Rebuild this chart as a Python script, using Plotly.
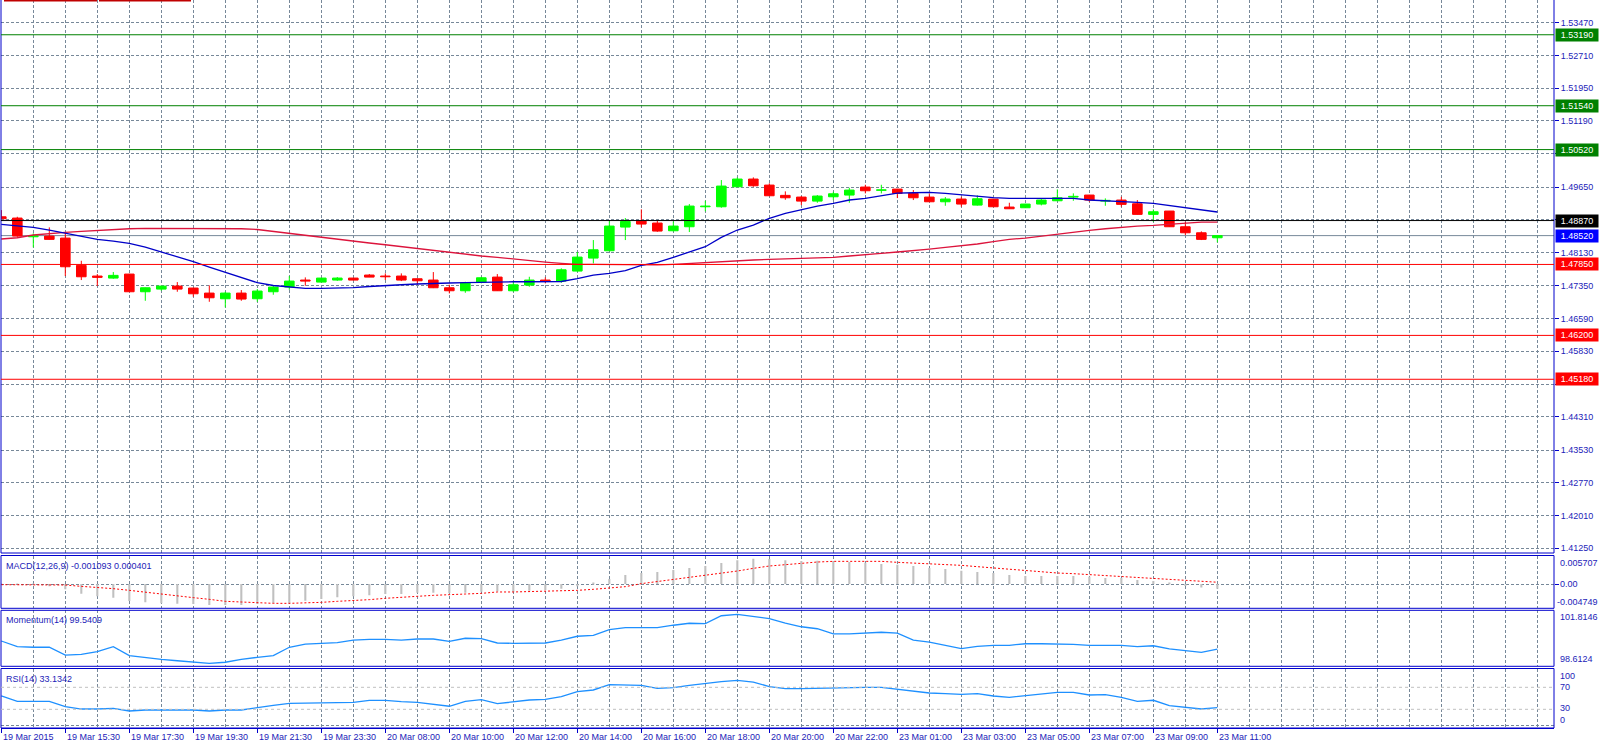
import plotly.graph_objects as go

# ---------------- data ----------------
idx = list(range(77))

open_ = [1.48958, 1.48928, 1.48493, 1.48510, 1.48463, 1.47828, 1.47580, 1.47533, 1.47626, 1.47215,
         1.47277, 1.47347, 1.47301, 1.47184, 1.47052, 1.47184, 1.47052, 1.47215, 1.47324, 1.47487,
         1.47440, 1.47487, 1.47533, 1.47603, 1.47580, 1.47580, 1.47517, 1.47487, 1.47308, 1.47238,
         1.47433, 1.47556, 1.47238, 1.47370, 1.47487, 1.47463, 1.47696, 1.47998, 1.48168, 1.48719,
         1.48858, 1.48812, 1.48633, 1.48726, 1.49191, 1.49191, 1.49656, 1.49835, 1.49695, 1.49456,
         1.49416, 1.49323, 1.49423, 1.49463, 1.49649, 1.49572, 1.49602, 1.49502, 1.49416, 1.49307,
         1.49370, 1.49230, 1.49370, 1.49184, 1.49168, 1.49254, 1.49330, 1.49416, 1.49463, 1.49323,
         1.49347, 1.49261, 1.49014, 1.49091, 1.48726, 1.48586, 1.48470]
high = [1.49114, 1.48958, 1.48572, 1.48712, 1.48579, 1.47935, 1.47626, 1.47673, 1.47630, 1.47310,
        1.47350, 1.47440, 1.47305, 1.47363, 1.47215, 1.47254, 1.47277, 1.47347, 1.47580, 1.47549,
        1.47535, 1.47556, 1.47535, 1.47626, 1.47642, 1.47642, 1.47520, 1.47673, 1.47377, 1.47447,
        1.47563, 1.47626, 1.47447, 1.47563, 1.47549, 1.47759, 1.48138, 1.48417, 1.48882, 1.48928,
        1.49130, 1.48865, 1.48851, 1.49254, 1.49330, 1.49812, 1.49874, 1.49874, 1.49735, 1.49549,
        1.49440, 1.49463, 1.49540, 1.49633, 1.49702, 1.49702, 1.49605, 1.49579, 1.49502, 1.49416,
        1.49423, 1.49456, 1.49372, 1.49284, 1.49256, 1.49386, 1.49595, 1.49502, 1.49465, 1.49386,
        1.49423, 1.49347, 1.49130, 1.49093, 1.48842, 1.48619, 1.48526]
low = [1.48912, 1.48493, 1.48247, 1.48430, 1.47580, 1.47487, 1.47347, 1.47517, 1.47210, 1.47005,
       1.47240, 1.47215, 1.47098, 1.46982, 1.46852, 1.47005, 1.46982, 1.47145, 1.47261, 1.47354,
       1.47438, 1.47470, 1.47485, 1.47556, 1.47487, 1.47463, 1.47377, 1.47300, 1.47177, 1.47191,
       1.47410, 1.47235, 1.47215, 1.47331, 1.47410, 1.47424, 1.47685, 1.47875, 1.48160, 1.48417,
       1.48712, 1.48610, 1.48619, 1.48603, 1.49084, 1.49168, 1.49650, 1.49656, 1.49445, 1.49354,
       1.49230, 1.49284, 1.49347, 1.49284, 1.49502, 1.49502, 1.49393, 1.49347, 1.49305, 1.49214,
       1.49191, 1.49220, 1.49189, 1.49142, 1.49166, 1.49223, 1.49326, 1.49330, 1.49307, 1.49214,
       1.49191, 1.49012, 1.48842, 1.48724, 1.48533, 1.48417, 1.48363]
close = [1.48912, 1.48510, 1.48517, 1.48433, 1.47796, 1.47563, 1.47549, 1.47596, 1.47215, 1.47308,
         1.47347, 1.47277, 1.47168, 1.47075, 1.47184, 1.47045, 1.47231, 1.47324, 1.47463, 1.47463,
         1.47533, 1.47533, 1.47487, 1.47556, 1.47563, 1.47487, 1.47470, 1.47308, 1.47238, 1.47424,
         1.47540, 1.47238, 1.47377, 1.47487, 1.47456, 1.47726, 1.48021, 1.48191, 1.48742, 1.48851,
         1.48789, 1.48626, 1.48742, 1.49207, 1.49207, 1.49672, 1.49835, 1.49679, 1.49447, 1.49400,
         1.49323, 1.49440, 1.49493, 1.49579, 1.49563, 1.49586, 1.49502, 1.49400, 1.49307, 1.49370,
         1.49254, 1.49377, 1.49191, 1.49144, 1.49254, 1.49347, 1.49400, 1.49433, 1.49347, 1.49340,
         1.49247, 1.49014, 1.49075, 1.48726, 1.48586, 1.48433, 1.48520]

fast_ma = [1.48783, 1.48755, 1.48713, 1.48650, 1.48573, 1.48499, 1.48434, 1.48394, 1.48341, 1.48255,
           1.48146, 1.48034, 1.47913, 1.47790, 1.47667, 1.47546, 1.47425, 1.47360, 1.47325, 1.47295,
           1.47295, 1.47295, 1.47309, 1.47337, 1.47364, 1.47378, 1.47395, 1.47411, 1.47418, 1.47425,
           1.47434, 1.47448, 1.47448, 1.47448, 1.47448, 1.47453, 1.47518, 1.47604, 1.47643, 1.47704,
           1.47829, 1.47899, 1.48015, 1.48139, 1.48262, 1.48480, 1.48650, 1.48766, 1.48922, 1.49038,
           1.49131, 1.49208, 1.49271, 1.49348, 1.49387, 1.49448, 1.49510, 1.49517, 1.49527, 1.49503,
           1.49464, 1.49424, 1.49401, 1.49387, 1.49387, 1.49387, 1.49387, 1.49387, 1.49348, 1.49331,
           1.49324, 1.49294, 1.49271, 1.49224, 1.49178, 1.49115, 1.49069]
slow_ma = [1.48441, 1.48471, 1.48534, 1.48573, 1.48597, 1.48620, 1.48643, 1.48650, 1.48680, 1.48690,
           1.48690, 1.48690, 1.48690, 1.48688, 1.48685, 1.48680, 1.48662, 1.48615, 1.48569, 1.48534,
           1.48487, 1.48429, 1.48387, 1.48348, 1.48308, 1.48264, 1.48225, 1.48185, 1.48127, 1.48092,
           1.48046, 1.48015, 1.47976, 1.47929, 1.47906, 1.47876, 1.47853, 1.47853, 1.47848, 1.47848,
           1.47836, 1.47841, 1.47853, 1.47876, 1.47894, 1.47906, 1.47929, 1.47953, 1.47969, 1.47980,
           1.47985, 1.47992, 1.48015, 1.48046, 1.48069, 1.48108, 1.48139, 1.48169, 1.48208, 1.48248,
           1.48285, 1.48325, 1.48378, 1.48434, 1.48464, 1.48511, 1.48557, 1.48604, 1.48643, 1.48680,
           1.48713, 1.48743, 1.48759, 1.48790, 1.48820, 1.48836, 1.48836]

macd_main = [0.00008, 0.00003, -0.00006, -0.00053, -0.00120, -0.00218, -0.00278, -0.00308, -0.00384, -0.00414,
             -0.00436, -0.00444, -0.00451, -0.004749, -0.00474, -0.00472, -0.00451, -0.00429, -0.00429, -0.00376,
             -0.00338, -0.00301, -0.00278, -0.00256, -0.00226, -0.00226, -0.00196, -0.00196, -0.00211, -0.00196,
             -0.00173, -0.00165, -0.00173, -0.00150, -0.00135, -0.00105, -0.00053, 0.00030, 0.00113, 0.00203,
             0.00248, 0.00271, 0.00316, 0.00361, 0.00406, 0.00474, 0.00534, 0.005707, 0.00566, 0.00534,
             0.00519, 0.00526, 0.00511, 0.00496, 0.00481, 0.00451, 0.00436, 0.00406, 0.00361, 0.00338,
             0.00301, 0.00271, 0.00248, 0.00203, 0.00180, 0.00180, 0.00180, 0.00180, 0.00165, 0.00135,
             0.00135, 0.00090, 0.00068, 0.00023, -0.00045, -0.00080, -0.001093]
macd_signal = [-0.00015, -0.00015, -0.00015, -0.00015, -0.00023, -0.00053, -0.00075, -0.00105, -0.00143, -0.00180,
               -0.00218, -0.00263, -0.00308, -0.00346, -0.00391, -0.00406, -0.00429, -0.00436, -0.00436, -0.00429,
               -0.00414, -0.00391, -0.00376, -0.00353, -0.00323, -0.00293, -0.00278, -0.00256, -0.00233, -0.00226,
               -0.00211, -0.00180, -0.00180, -0.00173, -0.00158, -0.00150, -0.00143, -0.00120, -0.00090, -0.00060,
               0.00008, 0.00053, 0.00105, 0.00158, 0.00188, 0.00241, 0.00293, 0.00353, 0.00406, 0.00436,
               0.00474, 0.00496, 0.00511, 0.00511, 0.00511, 0.00511, 0.00489, 0.00474, 0.00466, 0.00444,
               0.00421, 0.00391, 0.00361, 0.00338, 0.00308, 0.00278, 0.00248, 0.00233, 0.00211, 0.00196,
               0.00173, 0.00150, 0.00128, 0.00113, 0.00083, 0.00060, 0.000401]
momentum = [100.07, 99.70, 99.66, 99.66, 99.15, 99.20, 99.37, 99.70, 99.11, 98.98,
            98.87, 98.78, 98.70, 98.6124, 98.68, 98.87, 99.00, 99.11, 99.66, 99.87,
            99.92, 99.96, 100.13, 100.18, 100.18, 100.13, 100.20, 100.20, 100.05, 100.25,
            100.22, 99.94, 99.92, 99.92, 99.94, 100.13, 100.38, 100.44, 100.81, 100.94,
            100.94, 100.94, 101.10, 101.23, 101.20, 101.72, 101.8146, 101.66, 101.53, 101.23,
            101.00, 100.87, 100.53, 100.53, 100.59, 100.64, 100.59, 100.13, 100.00, 99.81,
            99.57, 99.72, 99.79, 99.79, 99.89, 99.89, 99.89, 99.85, 99.79, 99.79,
            99.79, 99.70, 99.76, 99.55, 99.44, 99.33, 99.5409]
rsi = [54.2, 44.5, 44.5, 44.5, 34.7, 30.5, 30.5, 31.8, 26.9, 28.7,
       28.7, 28.7, 28.7, 26.9, 28.7, 28.7, 33.6, 37.3, 40.9, 40.9,
       42.0, 42.0, 42.7, 46.4, 46.4, 43.8, 42.7, 39.6, 35.5, 44.5,
       47.5, 40.2, 43.3, 46.9, 48.2, 52.9, 62.0, 65.1, 74.7, 74.7,
       73.6, 68.2, 69.3, 73.6, 77.3, 80.2, 82.7, 79.6, 71.1, 67.5,
       67.5, 68.2, 68.2, 70.0, 70.0, 70.0, 66.4, 62.7, 59.6, 58.4,
       57.3, 58.4, 54.2, 51.8, 54.7, 57.8, 60.9, 60.9, 56.0, 56.5,
       51.8, 44.5, 46.4, 36.5, 32.9, 30.5, 33.1342]

time_labels = ["19 Mar 2015", "19 Mar 15:30", "19 Mar 17:30", "19 Mar 19:30", "19 Mar 21:30",
               "19 Mar 23:30", "20 Mar 08:00", "20 Mar 10:00", "20 Mar 12:00", "20 Mar 14:00",
               "20 Mar 16:00", "20 Mar 18:00", "20 Mar 20:00", "20 Mar 22:00", "23 Mar 01:00",
               "23 Mar 03:00", "23 Mar 05:00", "23 Mar 07:00", "23 Mar 09:00", "23 Mar 11:00"]
label_pos = list(range(0, 77, 4))

price_ticks = [1.53470, 1.52710, 1.51950, 1.51190, 1.50430, 1.49650, 1.48890, 1.48130, 1.47350,
               1.46590, 1.45830, 1.45070, 1.44310, 1.43530, 1.42770, 1.42010, 1.41250]
resistance_levels = [1.53190, 1.51540, 1.50520]
support_levels = [1.47850, 1.46200, 1.45180]
pivot_level = 1.48870
bid_price = 1.48520

macd_label = "MACD(12,26,9) -0.001093 0.000401"
mom_label = "Momentum(14) 99.5409"
rsi_label = "RSI(14) 33.1342"

# ---------------- styles ----------------
FONT = "Liberation Sans"
NAVY = "#1c1cb8"
BLUE = "#0000cc"
GRID = "#778899"
BULL = "#00ff00"
BEAR = "#ff0000"

fig = go.Figure()

bull = [i for i in idx if close[i] >= open_[i]]
bear = [i for i in idx if close[i] < open_[i]]

for group, col in ((bull, BULL), (bear, BEAR)):
    wx, wy = [], []
    for i in group:
        wx += [i, i, None]
        wy += [low[i], high[i], None]
    fig.add_trace(go.Scatter(x=wx, y=wy, mode="lines", line=dict(color=col, width=1),
                             hoverinfo="skip", xaxis="x", yaxis="y"))
for group, col in ((bull, BULL), (bear, BEAR)):
    fig.add_trace(go.Bar(x=group,
                         base=[min(open_[i], close[i]) for i in group],
                         y=[abs(close[i] - open_[i]) for i in group],
                         width=0.6, marker=dict(color=col, line=dict(color=col, width=1)),
                         hoverinfo="skip", xaxis="x", yaxis="y"))

fig.add_trace(go.Scatter(x=idx, y=slow_ma, mode="lines", line=dict(color="#dc143c", width=1.3),
                         hoverinfo="skip", xaxis="x", yaxis="y"))
fig.add_trace(go.Scatter(x=idx, y=fast_ma, mode="lines", line=dict(color="#0000c8", width=1.3),
                         hoverinfo="skip", xaxis="x", yaxis="y"))

# MACD
fig.add_trace(go.Bar(x=idx, y=macd_main, width=0.13, marker=dict(color="#c0c0c0", line=dict(width=0)),
                     hoverinfo="skip", xaxis="x", yaxis="y2"))
fig.add_trace(go.Scatter(x=idx, y=macd_signal, mode="lines",
                         line=dict(color="#ff0000", width=1, dash="2px,2px"),
                         hoverinfo="skip", xaxis="x", yaxis="y2"))
# Momentum
fig.add_trace(go.Scatter(x=idx, y=momentum, mode="lines", line=dict(color="#1e90ff", width=1.3),
                         hoverinfo="skip", xaxis="x", yaxis="y3"))
# RSI
fig.add_trace(go.Scatter(x=idx, y=rsi, mode="lines", line=dict(color="#1e90ff", width=1.3),
                         hoverinfo="skip", xaxis="x", yaxis="y4"))

# ---------------- layout ----------------
PH = 728.0
def dom(top_px, bot_px):
    return [1 - bot_px / PH, 1 - top_px / PH]

d_main = dom(0, 553)
d_macd = dom(555.5, 608.3)
d_mom = dom(610.3, 666.3)
d_rsi = [0, 1 - 668.5 / PH]

grid = dict(showgrid=True, gridcolor=GRID, gridwidth=1, griddash="3px,2px")

# tick labels that sit under a coloured level box are left blank (they are hidden there)
all_levels = resistance_levels + support_levels + [pivot_level, bid_price]
price_ticktext = ["" if any(abs(t - lv) < 0.0013 for lv in all_levels) else f"{t:.5f}"
                  for t in price_ticks]

fig.update_layout(
    width=1599, height=747,
    margin=dict(l=1, r=45, t=0, b=19),
    paper_bgcolor="white", plot_bgcolor="white",
    showlegend=False, barmode="overlay",
    font=dict(family=FONT, size=9, color=NAVY),
    xaxis=dict(domain=[0, 1], anchor="y4", range=[-0.019, 97.04],
               tickvals=label_pos, ticktext=[""] * len(label_pos), showticklabels=False,
               ticks="outside", ticklen=4, tickcolor=BLUE,
               showline=True, linecolor=BLUE, linewidth=1, zeroline=False,
               minor=dict(dtick=2, tick0=0, showgrid=True, gridcolor=GRID, griddash="3px,2px", ticks=""),
               **grid),
    yaxis=dict(domain=d_main, anchor="x", side="right", range=[1.41141, 1.53998],
               tickvals=price_ticks, ticktext=price_ticktext, ticks="outside", ticklen=4, tickcolor=BLUE,
               tickfont=dict(family=FONT, size=9, color=NAVY), zeroline=False, **grid),
    yaxis2=dict(domain=d_macd, anchor="x", side="right", range=[-0.005482, 0.006430],
                tickvals=[0], showticklabels=False, ticks="outside", ticklen=4, tickcolor=BLUE,
                zeroline=False, **grid),
    yaxis3=dict(domain=d_mom, anchor="x", side="right", range=[98.416, 102.076],
                showgrid=False, showticklabels=False, zeroline=False, ticks=""),
    yaxis4=dict(domain=d_rsi, anchor="x", side="right", range=[-4.0, 104.18],
                tickvals=[0], showticklabels=False, ticks="", zeroline=False, **grid),
)

shapes = []
# panel borders
for d, top_extra in ((d_main, 3 / PH), (d_macd, 0), (d_mom, 0), (d_rsi, 0)):
    shapes.append(dict(type="rect", xref="paper", yref="paper", x0=0, x1=1,
                       y0=d[0], y1=d[1] + top_extra, line=dict(color=BLUE, width=1),
                       fillcolor="rgba(0,0,0,0)", layer="above"))
# price levels
for lv in resistance_levels:
    shapes.append(dict(type="line", xref="paper", yref="y", x0=0, x1=1, y0=lv, y1=lv,
                       line=dict(color="#008000", width=1)))
for lv in support_levels:
    shapes.append(dict(type="line", xref="paper", yref="y", x0=0, x1=1, y0=lv, y1=lv,
                       line=dict(color="#ff0000", width=1)))
shapes.append(dict(type="line", xref="paper", yref="y", x0=0, x1=1, y0=pivot_level, y1=pivot_level,
                   line=dict(color="#000000", width=1)))
shapes.append(dict(type="line", xref="paper", yref="y", x0=0, x1=1, y0=bid_price, y1=bid_price,
                   line=dict(color="#778899", width=1), layer="below"))
# RSI levels
for lv in (70, 30):
    shapes.append(dict(type="line", xref="paper", yref="y4", x0=0, x1=1, y0=lv, y1=lv,
                       line=dict(color="#c0c0c0", width=1, dash="3px,3px")))
# small red marks at the top-left edge
for a, b in ((3 / 1553, 96 / 1553), (98 / 1553, 190 / 1553)):
    shapes.append(dict(type="line", xref="paper", yref="paper", x0=a, x1=b,
                       y0=1 - 0.8 / PH, y1=1 - 0.8 / PH, line=dict(color="#c00000", width=1.6)))
fig.update_layout(shapes=shapes)

ann = []
def price_box(v, bg):
    ann.append(dict(xref="paper", yref="y", x=1, y=v, xanchor="left", yanchor="middle",
                    xshift=1, text=f"{v:.5f}", showarrow=False, bgcolor=bg, borderpad=1,
                    width=40, height=10, font=dict(family=FONT, size=9, color="white")))
for lv in resistance_levels:
    price_box(lv, "#008000")
for lv in support_levels:
    price_box(lv, "#ff0000")
price_box(pivot_level, "#000000")
price_box(bid_price, "#0000ff")

def side_label(yref, v, txt, shift, xs=4):
    ann.append(dict(xref="paper", yref=yref, x=1, y=v, xanchor="left", yanchor="middle",
                    xshift=xs, yshift=shift, text=txt, showarrow=False,
                    font=dict(family=FONT, size=9, color=NAVY)))
side_label("y2", 0.005707, "0.005707", -4)
side_label("y2", 0.0, "0.00", 0)
side_label("y2", -0.004749, "-0.004749", 3, xs=1)
side_label("y3", 101.8146, "101.8146", -3)
side_label("y3", 98.6124, "98.6124", 4)
side_label("y4", 100, "100", -5)
side_label("y4", 70, "70", 0)
side_label("y4", 30, "30", 1)
side_label("y4", 0, "0", 6)

for yref, txt in (("y2 domain", macd_label), ("y3 domain", mom_label), ("y4 domain", rsi_label)):
    ann.append(dict(xref="paper", yref=yref, x=0, y=1, xanchor="left", yanchor="top",
                    xshift=3, yshift=-3, text=txt, showarrow=False,
                    font=dict(family=FONT, size=9, color=NAVY)))

for p, t in zip(label_pos, time_labels):
    ann.append(dict(xref="x", yref="paper", x=p, y=0, xanchor="left", yanchor="top",
                    yshift=-2, text=t, showarrow=False,
                    font=dict(family=FONT, size=9, color=NAVY)))
fig.update_layout(annotations=ann)

fig.write_html("out.html")
